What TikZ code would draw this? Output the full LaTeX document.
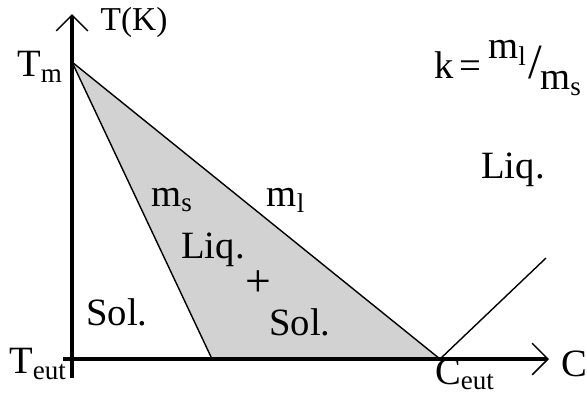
\documentclass[tikz,border=0pt]{standalone}
\usepackage{fontspec}
\setmainfont{Liberation Serif}
\usetikzlibrary{arrows.meta}

\tikzset{
    axis/.style={line width=2.2pt, -{Straight Barb[length=9pt, width=18pt, line width=0.9pt]}},
    phase/.style={line width=0.8pt},
    lbl/.style={font=\fontsize{22}{26}\selectfont, inner sep=0pt},
}

\begin{document}
\begin{tikzpicture}[x=0.02cm, y=-0.02cm]
    \useasboundingbox (0,0) rectangle (587,393);

    % phase points
    \coordinate (O) at (72,359);
    \coordinate (Tm) at (72,62);
    \coordinate (S) at (212,359);
    \coordinate (E) at (440,359);
    \coordinate (L) at (546,258);

    % two-phase region
    \fill[gray!35] (Tm) -- (S) -- (E) -- cycle;
    \draw[phase] (Tm) -- (S);
    \draw[phase] (Tm) -- (E) -- (L);

    % axes
    \draw[axis] (72,378) coordinate (ybot) -- (72,14) coordinate (ytop);
    \draw[axis] (63,359) coordinate (xleft) -- (549,359) coordinate (xright);

    \node[lbl, font=\fontsize{19}{22}\selectfont] (tk) at (134,22) {T(K)};
    \node[lbl] (tm) at (40,67) {T\textsubscript{m}};
    \node[lbl] (teut) at (38,364) {T\textsubscript{eut}};
    \node[lbl, anchor=base] (ceut) at (465,384) {C\textsubscript{eut}};
    \node[lbl] (c) at (574,364) {C};
    \node[lbl] (kdef) at (508,68) {k\,=\,\raisebox{0.5em}{m\textsubscript{l}}\kern1pt{\fontsize{28}{30}\selectfont/}\kern-1pt\raisebox{-0.3em}{m\textsubscript{s}}};

    \node[lbl] (liq) at (513,170) {Liq.};
    \node[lbl] (ms) at (172,200) {m\textsubscript{s}};
    \node[lbl] (ml) at (286,200) {m\textsubscript{l}};
    \node[lbl] (liqmix) at (213,250) {Liq.};
    \node[lbl, font=\fontsize{26}{28}\selectfont] (plus) at (258,284) {+};
    \node[lbl] (solmix) at (300,322) {Sol.};
    \node[lbl] (sol) at (117,312) {Sol.};
\end{tikzpicture}
\end{document}
